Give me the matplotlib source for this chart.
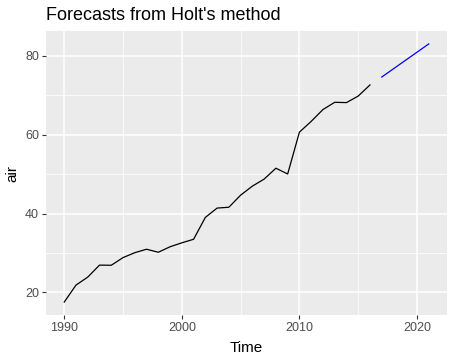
import matplotlib
matplotlib.use("Agg")
import matplotlib.pyplot as plt
import numpy as np

plt.rcParams['font.family'] = ['Liberation Sans', 'DejaVu Sans']

years = list(range(1990, 2017))
air = [17.5534, 21.8601, 23.8866, 26.9293, 26.8885, 28.8314, 30.0751, 30.9535,
       30.1857, 31.5797, 32.5776, 33.4774, 39.0216, 41.3864, 41.5966, 44.6577,
       46.9518, 48.7288, 51.4880, 50.0270, 60.6409, 63.3601, 66.3555, 68.1978,
       68.1232, 69.7793, 72.5971]
fc_years = [2017, 2018, 2019, 2020, 2021]
fc = [74.60, 76.70, 78.80, 80.90, 83.00]

xticks = [1990, 2000, 2010, 2020]
yticks = [20, 40, 60, 80]

W, H = 455, 362
fig = plt.figure(figsize=(W/100, H/100), dpi=100)
ax = fig.add_axes([46/W, (H-315)/H, 401/W, 284/H])
ax.set_facecolor("#EBEBEB")
for s in ax.spines.values():
    s.set_visible(False)

allx = years + fc_years
ally = air + fc
xr = max(allx) - min(allx)
yr = max(ally) - min(ally)
ax.set_xlim(min(allx) - 0.05*xr, max(allx) + 0.05*xr)
ax.set_ylim(min(ally) - 0.05*yr, max(ally) + 0.05*yr)

ax.set_xticks(xticks)
ax.set_yticks(yticks)
ax.set_xticks([1995, 2005, 2015], minor=True)
ax.set_yticks([30, 50, 70], minor=True)
ax.grid(True, which="major", color="white", linewidth=1.1)
ax.grid(True, which="minor", color="white", linewidth=0.55)
ax.set_axisbelow(True)
ax.tick_params(which="major", length=3, color="#333333", width=0.8,
               labelsize=9, labelcolor="#4D4D4D", pad=2)
ax.tick_params(which="minor", length=0)

ax.plot(years, air, color="black", linewidth=0.9)
ax.plot(fc_years, fc, color="blue", linewidth=0.9)

ax.set_xlabel("Time", fontsize=11, labelpad=5)
ax.set_ylabel("air", fontsize=11, labelpad=4)
fig.text(46/W, 1 - 16/H, "Forecasts from Holt's method", fontsize=13,
         va="center", ha="left")

fig.savefig("out.png", dpi=100)
